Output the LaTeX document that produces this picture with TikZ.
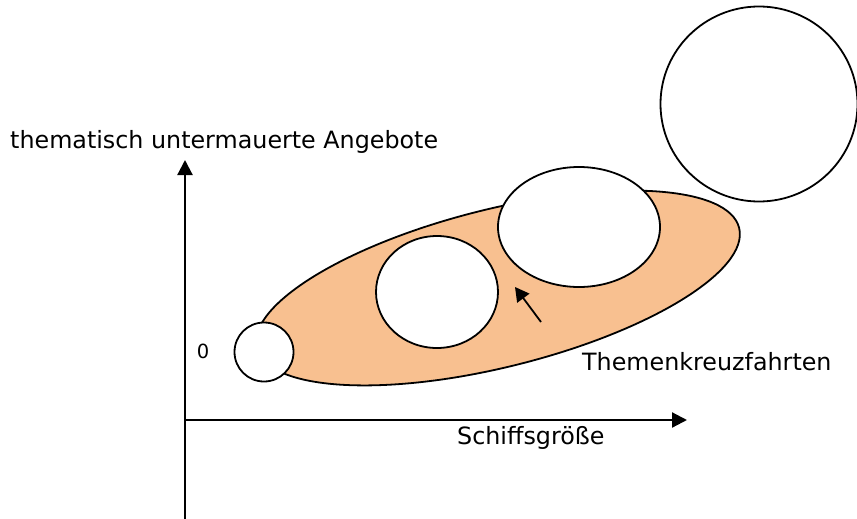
\documentclass[tikz,border=0pt]{standalone}
\usepackage{fontspec}
\setmainfont{DejaVu Sans}
\usetikzlibrary{shapes.geometric,arrows.meta}
\definecolor{tanfill}{RGB}{248,192,144}
\begin{document}
\begin{tikzpicture}[x=1pt,y=-1pt,
  blob/.style={ellipse,draw=black,line width=1.8pt,fill=white,inner sep=0pt,outer sep=0pt},
  axisline/.style={line width=2.2pt,-{Triangle[length=15pt,width=15pt]}},
  lbl/.style={inner sep=0pt,anchor=base west,font=\fontsize{23.8}{28}\selectfont}]
\useasboundingbox (0,0) rectangle (857,519);
% orange region
\node[blob,fill=tanfill,rotate=14,minimum width=497pt,minimum height=158pt] (themen) at (498,288) {};
% circles
\node[blob,minimum width=59pt,minimum height=59pt] (c1) at (264,352) {};
\node[blob,minimum width=122pt,minimum height=112pt] (c2) at (437,292) {};
\node[blob,minimum width=162pt,minimum height=120pt] (c3) at (579,227) {};
\node[blob,minimum width=197pt,minimum height=195pt] (c4) at (759,104) {};
% axes
\coordinate (orig) at (185,420);
\coordinate (ybot) at (185,519);
\coordinate (ytop) at (185,160);
\coordinate (xend) at (687,420);
\draw[axisline] (ybot) -- (ytop);
\draw[axisline] (orig) -- (xend);
% small arrow
\coordinate (as) at (541,322);
\coordinate (ae) at (515,287);
\draw[line width=1.8pt,-{Triangle[length=14pt,width=15pt]}] (as) -- (ae);
% labels
\node[lbl] (ylabel) at (10,148) {thematisch untermauerte Angebote};
\node[lbl] (tk) at (582,370) {Themenkreuzfahrten};
\node[lbl] (sg) at (457,444) {Schiffsgröße};
\node[lbl,anchor=base,font=\fontsize{19.5}{23}\selectfont] (zero) at (203,358) {0};
\end{tikzpicture}
\end{document}
